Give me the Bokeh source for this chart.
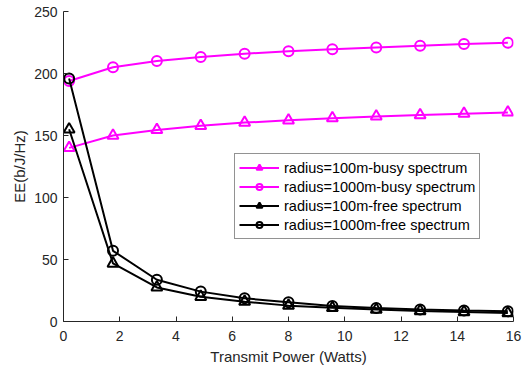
from bokeh.plotting import figure
from bokeh.embed import file_html
from bokeh.resources import INLINE
from bokeh.models import Range1d, FixedTicker, Legend, ColumnDataSource

x = [0.2, 1.76, 3.32, 4.88, 6.44, 8.0, 9.56, 11.12, 12.68, 14.24, 15.8]
busy_100 = [140, 150, 154.5, 157.8, 160.4, 162.2, 164, 165.4, 166.5, 167.6, 168.6]
busy_1000 = [194, 205, 210, 213.3, 216, 218, 219.6, 221, 222.4, 223.7, 224.8]
free_100 = [155, 46.8, 27.5, 20, 16, 12.8, 11, 9.6, 8.5, 7.7, 6.8]
free_1000 = [196, 57, 33.7, 24.1, 18.7, 15.5, 12.5, 10.8, 9.6, 8.8, 8.2]
labels = ["radius=100m-busy spectrum", "radius=1000m-busy spectrum",
          "radius=100m-free spectrum", "radius=1000m-free spectrum"]
x_ticks = [0, 2, 4, 6, 8, 10, 12, 14, 16]
y_ticks = [0, 50, 100, 150, 200, 250]

MAG = "#FF00FF"
BLK = "#000000"
FONT = "Liberation Sans"
AX = "#262626"

p = figure(width=522, height=367, output_backend="svg", toolbar_location=None,
           x_range=Range1d(0, 16), y_range=Range1d(0, 250),
           min_border_left=63, min_border_right=9, min_border_top=11, min_border_bottom=45)
p.outline_line_color = None
p.xgrid.visible = False
p.ygrid.visible = False
p.background_fill_color = "white"
p.border_fill_color = "white"

series = [(busy_100, MAG, "triangle", 11), (busy_1000, MAG, "circle", 10),
          (free_100, BLK, "triangle", 11), (free_1000, BLK, "circle", 10)]
items = []
for (ys, col, mk, sz), lab in zip(series, labels):
    src = ColumnDataSource(dict(x=x, y=ys))
    l1 = p.line("x", "y", source=src, line_color=col, line_width=2)
    p.scatter("x", "y", source=src, marker=mk, size=sz, line_color=col, line_width=2, fill_color=None)
    # legend proxy: hidden on the plot, smaller marker for the legend
    l2 = p.scatter("x", "y", source=src, marker=mk, size=7,
                   line_color=col, line_width=2, fill_color=None, visible=False)
    items.append((lab, [l1, l2]))

legend = Legend(items=items, location=(171, 82), click_policy="none")
legend.label_text_font = FONT
legend.label_text_font_size = "14.5px"
legend.label_text_color = "#000000"
legend.border_line_color = "#262626"
legend.border_line_width = 1
legend.padding = 4
legend.spacing = 0
legend.label_height = 19
legend.glyph_height = 15
legend.glyph_width = 40
legend.label_standoff = 5
legend.margin = 0
legend.background_fill_alpha = 1
p.add_layout(legend, "center")

for ax in (p.xaxis[0], p.yaxis[0]):
    ax.major_tick_in = 5
    ax.major_tick_out = 0
    ax.minor_tick_in = 0
    ax.minor_tick_out = 0
    ax.axis_line_color = AX
    ax.major_tick_line_color = AX
    ax.major_label_text_font = FONT
    ax.major_label_text_font_size = "14px"
    ax.major_label_text_color = AX
    ax.axis_label_text_font = FONT
    ax.axis_label_text_font_size = "15px"
    ax.axis_label_text_font_style = "normal"
    ax.axis_label_text_color = AX

p.xaxis.ticker = FixedTicker(ticks=x_ticks)
p.yaxis.ticker = FixedTicker(ticks=y_ticks)
p.xaxis.axis_label = "Transmit Power (Watts)"
p.yaxis.axis_label = "EE(b/J/Hz)"
p.xaxis.major_label_standoff = 9
p.yaxis.major_label_standoff = 6
p.xaxis.axis_label_standoff = 4
p.yaxis.axis_label_standoff = 3

open("out.html", "w").write(file_html(p, INLINE))
